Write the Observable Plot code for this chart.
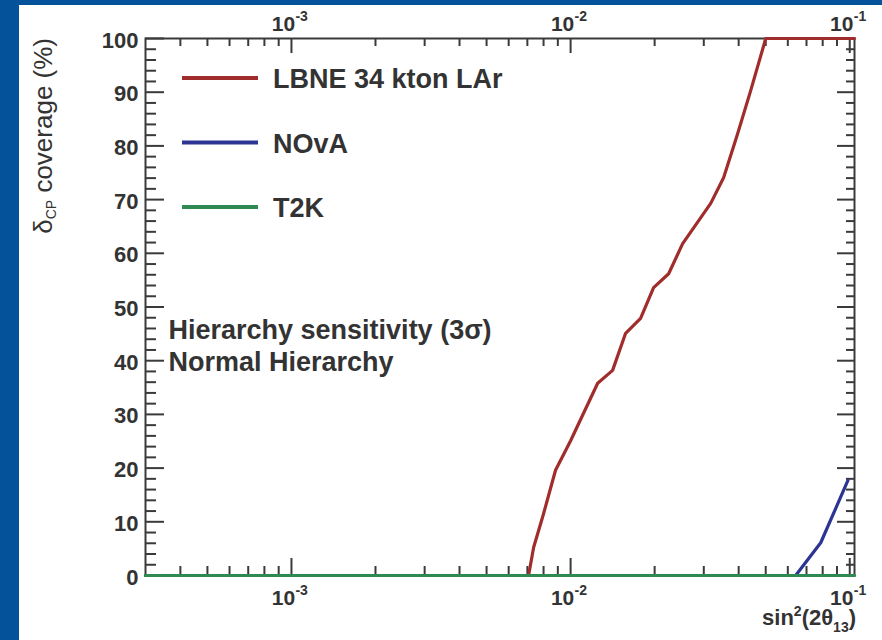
<!DOCTYPE html>
<html><head><meta charset="utf-8">
<script src="https://cdn.jsdelivr.net/npm/d3@7"></script>
<script src="https://cdn.jsdelivr.net/npm/@observablehq/plot@0.6"></script>
<style>
html,body{margin:0;padding:0;background:#03529a;width:882px;height:640px;overflow:hidden}
#chart{position:absolute;left:19px;top:5px;width:863px;height:635px;background:#fff}
</style></head><body><div id="chart"></div>
<script>
// ---- data ----
const lbneX = [0.0003, 0.00707, 0.00737, 0.0080, 0.00883, 0.0100, 0.0125, 0.01414, 0.01574, 0.01781, 0.01983, 0.02245, 0.0252, 0.03176, 0.03535, 0.03968, 0.04417, 0.0500, 0.104];
const lbneY = [0, 0, 5.2, 11.5, 19.6, 25.1, 35.8, 38.2, 45.1, 47.9, 53.6, 56.2, 61.8, 69.3, 74.1, 82.3, 90.3, 100, 100];
const novaX = [0.0003, 0.064, 0.0787, 0.0985];
const novaY = [0, 0, 6.1, 17.7];
const t2kX = [0.0003, 0.104];
const t2kY = [0, 0];
const seriesNames = ["LBNE 34 kton LAr", "NOvA", "T2K"];
const seriesColors = ["#a02c2c", "#2c3591", "#2f8a52"];

const xMajor = [0.001, 0.01, 0.1];
const xMajorExp = ["-3", "-2", "-1"];
const xMinor = [0.0004,0.0005,0.0006,0.0007,0.0008,0.0009,0.002,0.003,0.004,0.005,0.006,0.007,0.008,0.009,0.02,0.03,0.04,0.05,0.06,0.07,0.08,0.09];
const yMajor = [0,10,20,30,40,50,60,70,80,90,100];
const yMinor = [2,4,6,8,12,14,16,18,22,24,26,28,32,34,36,38,42,44,46,48,52,54,56,58,62,64,66,68,72,74,76,78,82,84,86,88,92,94,96,98];

const notes = ["Hierarchy sensitivity (3σ)", "Normal Hierarchy"];

// ---- layout ----
const W = 863, H = 635, mL = 126, mR = 28, mT = 33, mB = 65;
const PW = W - mL - mR, PH = H - mT - mB;
const axisColor = "#3a3a3a", textColor = "#333";
const font = "'Liberation Sans', Arial, Helvetica, sans-serif";

const series = [
  {x: lbneX, y: lbneY},
  {x: novaX, y: novaY},
  {x: t2kX, y: t2kY}
].map((s, k) => ({name: seriesNames[k], color: seriesColors[k], pts: s.x.map((x, i) => [x, s.y[i]])}));

const tickStyle = {stroke: axisColor, strokeWidth: 2};

const plot = Plot.plot({
  width: W, height: H,
  marginLeft: mL, marginRight: mR, marginTop: mT, marginBottom: mB,
  style: {background: "#fff", fontFamily: font, overflow: "visible"},
  x: {type: "log", domain: [0.0003, 0.104], axis: null},
  y: {domain: [0, 100], axis: null},
  marks: [
    Plot.frame({stroke: axisColor, strokeWidth: 2}),
    // bottom ticks
    Plot.tickX(xMajor, {x: d => d, insetTop: PH - 17, ...tickStyle}),
    Plot.tickX(xMinor, {x: d => d, insetTop: PH - 9, ...tickStyle}),
    // top ticks
    Plot.tickX(xMajor, {x: d => d, insetBottom: PH - 15, ...tickStyle}),
    Plot.tickX(xMinor, {x: d => d, insetBottom: PH - 8, ...tickStyle}),
    // left ticks
    Plot.tickY(yMajor, {y: d => d, insetRight: PW - 19, ...tickStyle}),
    Plot.tickY(yMinor, {y: d => d, insetRight: PW - 11, ...tickStyle}),
    // right ticks
    Plot.tickY(yMajor, {y: d => d, insetLeft: PW - 17, ...tickStyle}),
    Plot.tickY(yMinor, {y: d => d, insetLeft: PW - 8, ...tickStyle}),
    // y tick labels
    Plot.text(yMajor, {y: d => d, text: d => String(d), frameAnchor: "left", dx: -7, dy: 2, textAnchor: "end",
      fontSize: 22, fontWeight: "bold", fill: textColor}),
    // x tick labels bottom: "10" + exponent
    Plot.text(xMajor, {x: d => d, text: () => "10", frameAnchor: "bottom", lineAnchor: "middle", dx: -8, dy: 23,
      fontSize: 21, fontWeight: "bold", fill: textColor}),
    Plot.text(xMajor, {x: d => d, text: (d, i) => xMajorExp[i], frameAnchor: "bottom", lineAnchor: "middle", dx: 4, dy: 15, textAnchor: "start",
      fontSize: 14, fontWeight: "bold", fill: textColor}),
    // x tick labels top
    Plot.text(xMajor, {x: d => d, text: () => "10", frameAnchor: "top", lineAnchor: "middle", dx: -8, dy: -14,
      fontSize: 21, fontWeight: "bold", fill: textColor}),
    Plot.text(xMajor, {x: d => d, text: (d, i) => xMajorExp[i], frameAnchor: "top", lineAnchor: "middle", dx: 4, dy: -22, textAnchor: "start",
      fontSize: 14, fontWeight: "bold", fill: textColor}),
    // series
    ...series.map(s => Plot.line(s.pts, {x: d => d[0], y: d => d[1], stroke: s.color, strokeWidth: 3.2})),
    // annotation, one line under the other
    ...notes.map((t, i) => Plot.text([t], {text: d => d, frameAnchor: "top-left", lineAnchor: "middle", dx: 23, dy: 292 + i * 32, textAnchor: "start",
      fontSize: 27, fontWeight: "bold", fill: textColor}))
  ]
});
document.getElementById("chart").appendChild(plot);

const svg = d3.select(plot.tagName === "svg" ? plot : plot.querySelector("svg"));

// legend
const lg = svg.append("g").attr("font-family", font).attr("text-anchor", "start");
series.forEach((s, i) => {
  const yy = 73 + i * 64.5;
  lg.append("line").attr("x1", 163).attr("x2", 239).attr("y1", yy).attr("y2", yy)
    .attr("stroke", s.color).attr("stroke-width", 4);
  lg.append("text").attr("x", 254).attr("y", yy + 1).attr("dy", "0.35em").attr("text-anchor", "start")
    .attr("font-size", 27).attr("font-weight", "bold").attr("fill", textColor).text(s.name);
});

// y axis title
const yt = svg.append("text").attr("font-family", font).attr("fill", textColor)
  .attr("transform", `translate(33,${mT}) rotate(-90)`).attr("text-anchor", "end").attr("font-size", 26);
yt.append("tspan").text("δ");
yt.append("tspan").attr("font-size", 14).attr("dy", 4).text("CP");
yt.append("tspan").attr("dy", -4).text(" coverage (%)");

// x axis title
const xt = svg.append("text").attr("font-family", font).attr("fill", textColor).attr("font-weight", "bold")
  .attr("x", W - mR + 2).attr("y", 620).attr("text-anchor", "end").attr("font-size", 22);
xt.append("tspan").text("sin");
xt.append("tspan").attr("font-size", 14).attr("dy", -9).text("2");
xt.append("tspan").attr("dy", 9).text("(2θ");
xt.append("tspan").attr("font-size", 14).attr("dy", 7).text("13");
xt.append("tspan").attr("dy", -7).text(")");
</script>
</body></html>
